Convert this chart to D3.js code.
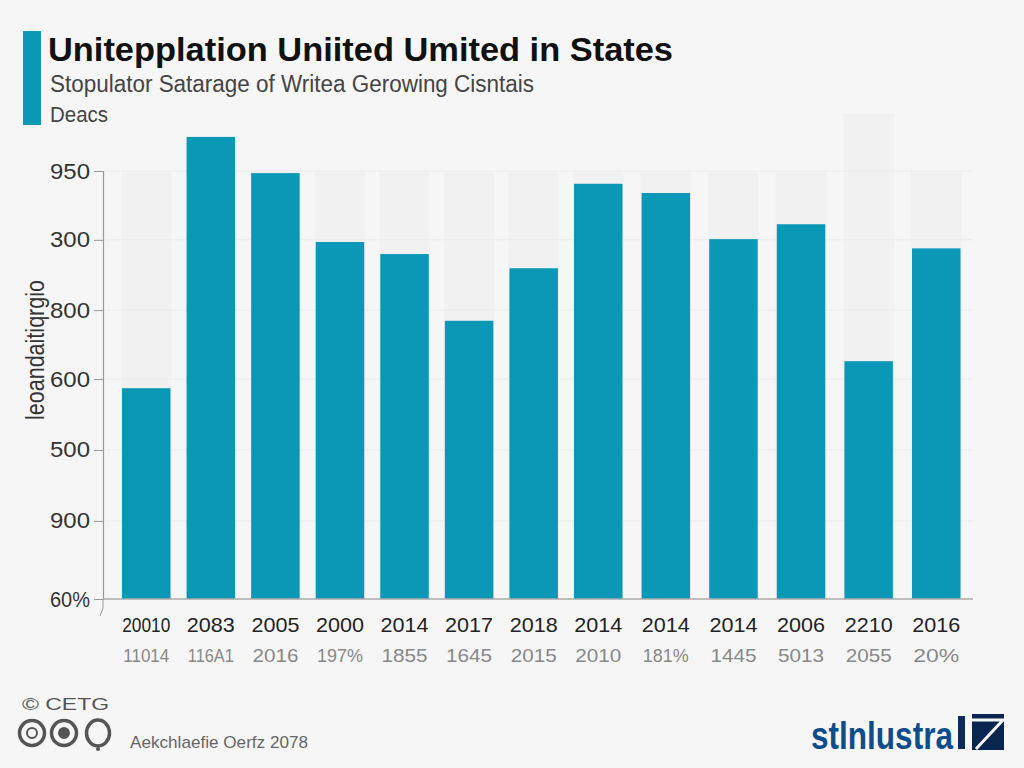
<!DOCTYPE html>
<html><head><meta charset="utf-8">
<script src="https://cdn.jsdelivr.net/npm/d3@7/dist/d3.min.js"></script>
<style>html,body{margin:0;padding:0;background:#f6f6f6;overflow:hidden}svg{display:block}text{font-family:"Liberation Sans",sans-serif}</style>
</head><body><svg id="c" width="1024" height="768"></svg>
<script>
const years=["20010","2083","2005","2000","2014","2017","2018","2014","2014","2014","2006","2210","2016"];
const subLabels=["11014","116A1","2016","197%","1855","1645","2015","2010","181%","1445","5013","2055","20%"];
const values=[297,651,600,503,486,392,466,585,572,507,528,335,494];
const ghost=[603,603,603,603,603,603,603,603,603,603,603,684,603];
const tickVals=[0,110,210,310,407,506,603];
const tickLabels=["60%","900","500","600","800","300","950"];
const svg=d3.select("#c");
const x=d3.scaleLinear().domain([0,7,12]).range([122,574,912]);
const y=d3.scaleLinear().domain([0,603]).range([599,171]);
const bw=48.5;
const teal="#0b97b6";
svg.append("rect").attr("width",1024).attr("height",768).attr("fill","#f6f6f6");
svg.append("rect").attr("x",23).attr("y",31).attr("width",18).attr("height",94).attr("fill",teal);
const t=(s,px,py,size,fill,w,extra={})=>{const e=svg.append("text").attr("x",px).attr("y",py).attr("font-size",size).attr("fill",fill).text(s);
 if(w)e.attr("textLength",w).attr("lengthAdjust","spacingAndGlyphs");
 Object.entries(extra).forEach(([k,v])=>e.attr(k,v));return e;};
t("Unitepplation Uniited Umited in  States",48,61,33,"#111",625,{"font-weight":"bold"});
t("Stopulator Satarage of Writea Gerowing Cisntais",50,92,23,"#444",484);
t("Deacs",50,122,22,"#444",58);
svg.append("g").selectAll("rect").data(ghost).join("rect")
 .attr("x",(d,i)=>x(i)-1).attr("width",bw+2).attr("y",d=>y(d)).attr("height",d=>y(0)-y(d)).attr("fill","#f1f1f1");
svg.append("g").selectAll("line").data(tickVals.slice(1)).join("line")
 .attr("x1",103).attr("x2",973).attr("y1",d=>y(d)).attr("y2",d=>y(d)).attr("stroke","#ececec");
svg.append("g").selectAll("rect").data(values).join("rect")
 .attr("x",(d,i)=>x(i)).attr("width",bw).attr("y",d=>y(d)).attr("height",d=>y(0)-y(d)).attr("fill",teal);
const ax=svg.append("g").attr("transform","translate(103,0)").call(
 d3.axisLeft(y).tickValues(tickVals).tickSize(9).tickPadding(4).tickFormat((d,i)=>tickLabels[i]));
ax.selectAll("text").attr("font-size",22).attr("fill","#333").attr("textLength",40).attr("lengthAdjust","spacingAndGlyphs").style("font-family",'"Liberation Sans",sans-serif');
ax.selectAll("line").attr("stroke","#999");
ax.select(".domain").attr("stroke","#999").attr("stroke-width",1.2);
svg.append("path").attr("d",d3.line()([[103,y(0)],[103,608],[100,616]])).attr("fill","none").attr("stroke","#999");
svg.append("line").attr("x1",103).attr("x2",973).attr("y1",y(0)).attr("y2",y(0)).attr("stroke","#aaa").attr("stroke-width",1.5);
svg.append("text").attr("transform","translate(44,350) rotate(-90)").attr("text-anchor","middle").attr("font-size",26).attr("fill","#333")
 .attr("textLength",140).attr("lengthAdjust","spacingAndGlyphs").text("leoandaitiqrgio");
svg.append("g").selectAll("text").data(years).join("text").attr("x",(d,i)=>x(i)+bw/2).attr("y",632)
 .attr("text-anchor","middle").attr("font-size",21).attr("fill","#222").text(d=>d).attr("textLength",48).attr("lengthAdjust","spacingAndGlyphs");
svg.append("g").selectAll("text").data(subLabels).join("text").attr("x",(d,i)=>x(i)+bw/2).attr("y",662)
 .attr("text-anchor","middle").attr("font-size",19).attr("fill","#888").text(d=>d).attr("textLength",46).attr("lengthAdjust","spacingAndGlyphs");
t("© CETG",22,710,17,"#555",87);
[[32,733],[64,733]].forEach(([cx,cy],i)=>{
 svg.append("circle").attr("cx",cx).attr("cy",cy).attr("r",12.5).attr("fill","none").attr("stroke","#555").attr("stroke-width",3.5);
 svg.append("circle").attr("cx",cx).attr("cy",cy).attr("r",5).attr("fill",i?"#555":"none").attr("stroke","#555").attr("stroke-width",2);
});
svg.append("ellipse").attr("cx",98).attr("cy",733).attr("rx",11.5).attr("ry",13).attr("fill","none").attr("stroke","#555").attr("stroke-width",3.5);
svg.append("circle").attr("cx",98).attr("cy",749).attr("r",2).attr("fill","#555");
t("Aekchlaefie Oerfz 2078",130,748,17,"#666",178);
t("stlnlustra",811,749,38,"#0f4c8a",142,{"font-weight":"bold"});
svg.append("rect").attr("x",958).attr("y",716).attr("width",7).attr("height",33).attr("fill","#0b2c5a");
svg.append("rect").attr("x",972).attr("y",714).attr("width",32).attr("height",36).attr("fill","#0a2550");
svg.append("path").attr("d",d3.line()([[972,720],[1003,720],[976,749]])).attr("fill","none").attr("stroke","#f6f6f6").attr("stroke-width",3);
</script></body></html>
